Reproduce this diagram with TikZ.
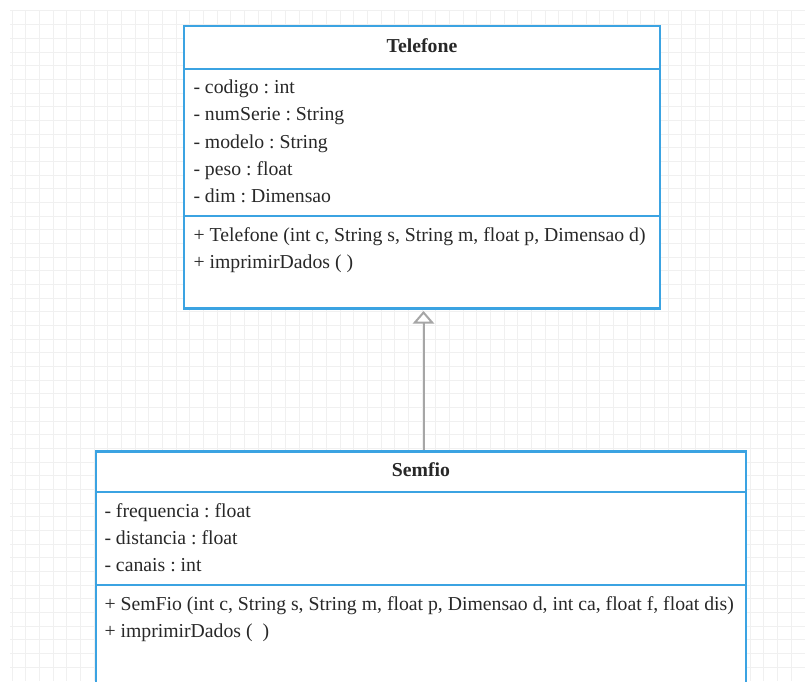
\documentclass[tikz,border=0pt]{standalone}
\usepackage{fontspec}
\setmainfont{Liberation Serif}
\usetikzlibrary{arrows.meta}

\definecolor{umlblue}{RGB}{59,163,226}
\definecolor{umlgrid}{RGB}{240,240,240}
\definecolor{umlgray}{RGB}{166,166,166}
\definecolor{umltext}{RGB}{40,40,40}

\tikzset{every picture/.style={line width=0.75pt}}
\tikzset{
  classbox/.style={draw=umlblue, line width=2pt, fill=white, inner sep=0pt},
  classline/.style={draw=umlblue, line width=2pt},
  classname/.style={anchor=base, inner sep=0pt, text=umltext, font=\fontsize{14.8}{20}\selectfont\bfseries},
  member/.style={anchor=base west, inner sep=0pt, text=umltext, font=\fontsize{14.8}{20}\selectfont\frenchspacing},
  inherit/.style={draw=umlgray, line width=1.5pt, -{Triangle[open, fill=white, width=16pt, length=9.5pt]}, shorten >=2pt},
}

\begin{document}
\begin{tikzpicture}[x=0.75pt,y=0.75pt,yscale=-1,xscale=1]
  \path[fill=white,use as bounding box] (0,0) rectangle (805,681);

  %Grid
  \foreach \i in {0,...,57} {
    \draw[umlgrid] (12+13.67*\i,11) -- (12+13.67*\i,681);
  }
  \foreach \j in {0,...,48} {
    \draw[umlgrid] (10,11+13.67*\j) -- (805,11+13.67*\j);
  }

  %Shape: Class Telefone
  \node[classbox, minimum width=357pt, minimum height=211.7pt] (telefone) at (422,167.2) {};
  %Straight Lines
  \draw[classline] (184,69) -- (660,69);
  %Straight Lines
  \draw[classline] (184,216) -- (660,216);

  %Shape: Class Semfio
  \node[classbox, anchor=north, minimum width=487.5pt, minimum height=190pt] (semfio) at (421,450) {};
  %Straight Lines
  \draw[classline] (96,492) -- (746,492);
  %Straight Lines
  \draw[classline] (96,585) -- (746,585);

  %Inheritance
  \draw[inherit] (semfio.north -| 423.5,0) -- (423.5,308.3);

  % Text Node
  \node[classname] (tel-name) at (422,52.3) {Telefone};
  \node[member] (tel-codigo) at (193,93.3) {- codigo : int};
  \node[member] (tel-serie) at (193,120.6) {- numSerie : String};
  \node[member] (tel-modelo) at (193,148) {- modelo : String};
  \node[member] (tel-peso) at (193,175.3) {- peso : float};
  \node[member] (tel-dim) at (193,202.7) {- dim : Dimensao};
  \node[member] (tel-ctor) at (193,241) {+ Telefone (int c, String s, String m, float p, Dimensao d)};
  \node[member] (tel-print) at (193,268.3) {+ imprimirDados ( )};

  % Text Node
  \node[classname] (sem-name) at (421,476) {Semfio};
  \node[member] (sem-freq) at (104,517) {- frequencia : float};
  \node[member] (sem-dist) at (104,544.4) {- distancia : float};
  \node[member] (sem-canais) at (104,571.8) {- canais : int};
  \node[member] (sem-ctor) at (104,610) {+ SemFio (int c, String s, String m, float p, Dimensao d, int ca, float f, float dis)};
  \node[member] (sem-print) at (104,637.3) {+ imprimirDados (~~)};

\end{tikzpicture}
\end{document}
